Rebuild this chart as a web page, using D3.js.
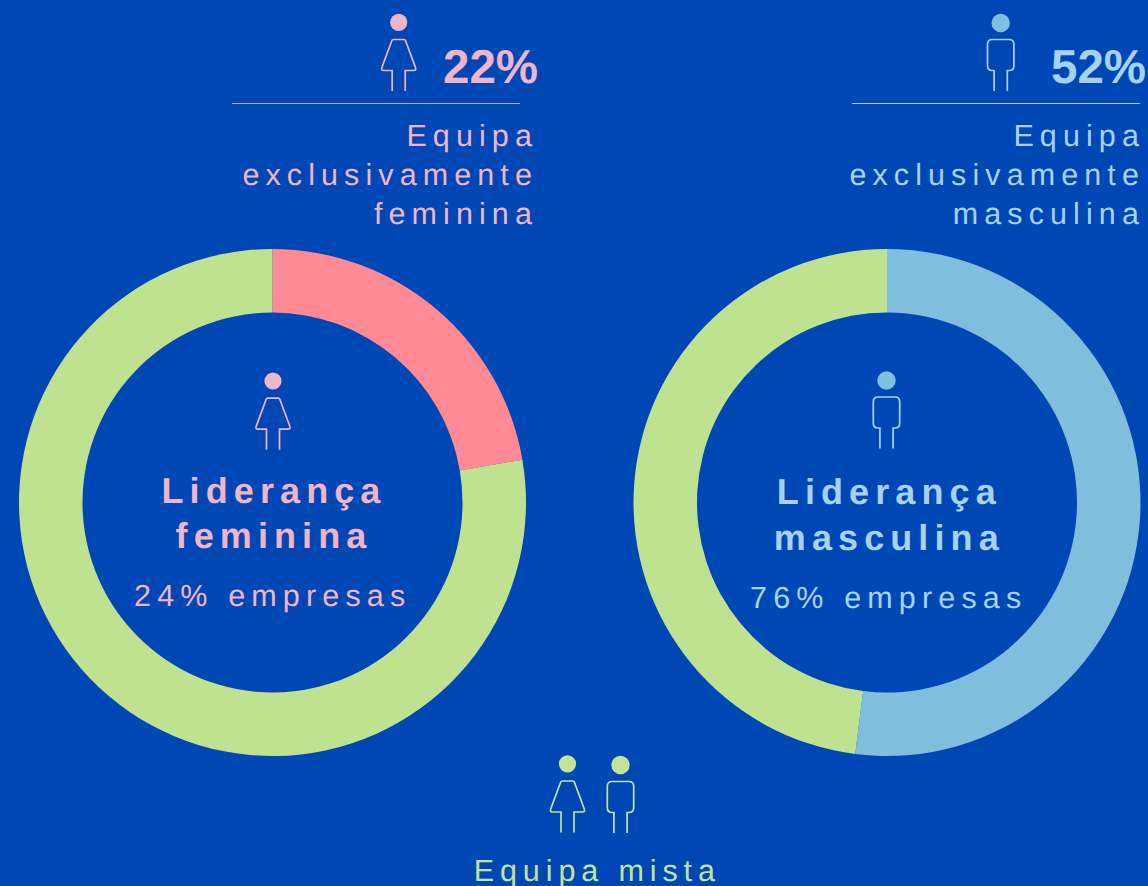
<!DOCTYPE html>
<html><head><meta charset="utf-8">
<script src="https://cdn.jsdelivr.net/npm/d3@7/dist/d3.min.js"></script>
<style>html,body{margin:0;padding:0;background:#0047b6;overflow:hidden}svg{display:block}
text{font-family:"Liberation Sans",Arial,sans-serif;text-rendering:geometricPrecision}</style></head>
<body><script>
const segmentLabels = ["Liderança", "Equipa mista"];
const womenLedValues = [22.3, 77.7];
const menLedValues = [52, 48];
const womenLedColors = ["#ff8a96", "#bfe291"];
const menLedColors = ["#7fbedc", "#bfe291"];
const topShares = ["22%", "52%"];
const womenTeamLines = ["Equipa", "exclusivamente", "feminina"];
const menTeamLines = ["Equipa", "exclusivamente", "masculina"];
const womenCenter = ["Liderança", "feminina", "24% empresas"];
const menCenter = ["Liderança", "masculina", "76% empresas"];
const mixedLabel = "Equipa mista";

const pink="#f0b5c9", blue="#a5d3ec", green="#c1e496";
const W=1148,H=886;
const svg=d3.select("body").append("svg").attr("width",W).attr("height",H);
svg.append("rect").attr("width",W).attr("height",H).attr("fill","#0047b6");

const pie=d3.pie().sort(null).value(d=>d);
const arc=d3.arc().innerRadius(190).outerRadius(253.5);
function donut(cx,cy,vals,cols){
  const g=svg.append("g").attr("transform",`translate(${cx},${cy})`);
  g.selectAll("path").data(pie(vals)).join("path").attr("d",arc).attr("fill",(d,i)=>cols[i]);
}
donut(272.5,502.5,womenLedValues,womenLedColors);
donut(887,502.5,menLedValues,menLedColors);

function woman(cx,dy,col,head){
  const g=svg.append("g").attr("transform",`translate(${cx},${dy})`);
  g.append("circle").attr("cy",22.3).attr("r",8.6).attr("fill",head||col);
  g.append("path").attr("fill","none").attr("stroke",col).attr("stroke-width",1.7)
   .attr("d","M-6.5,91V70.5H-15Q-17.8,70.5-16.8,67.5L-6.8,40.5Q-6.4,39.5-5.3,39.5H5.3Q6.4,39.5,6.8,40.5L16.8,67.5Q17.8,70.5,15,70.5H6.5V91");
}
function man(cx,dy,col,head){
  const g=svg.append("g").attr("transform",`translate(${cx},${dy})`);
  g.append("circle").attr("cy",23).attr("r",9.2).attr("fill",head||col);
  g.append("path").attr("fill","none").attr("stroke",col).attr("stroke-width",1.7)
   .attr("d","M-6.6,91V70.5H-8.5Q-13.2,70.5-13.2,65.5V44.5Q-13.2,39.5-8.5,39.5H8.5Q13.2,39.5,13.2,44.5V65.5Q13.2,70.5,8.5,70.5H6.6V91");
}
function txt(x,y,s,size,col,ls,anchor,weight){
  svg.append("text").attr("x",x).attr("y",y).attr("fill",col).attr("font-size",size)
   .attr("letter-spacing",ls).attr("text-anchor",anchor).attr("font-weight",weight||400).text(s);
}
// top blocks
woman(398.7,0,pink);
man(1000.7,0,blue,"#7fc0de");
txt(443,83,topShares[0],47.5,pink,0,"start",700);
txt(1051,83,topShares[1],47.5,blue,0,"start",700);
svg.append("line").attr("x1",232).attr("x2",520).attr("y1",103.5).attr("y2",103.5).attr("stroke","#b9a5d8").attr("stroke-width",1.2);
svg.append("line").attr("x1",852).attr("x2",1140).attr("y1",103.5).attr("y2",103.5).attr("stroke",blue).attr("stroke-width",1.2);
const lineYs=[146.3,185,223.8];
womenTeamLines.forEach((s,i)=>txt(538,lineYs[i],s,30.5,pink,6.1,"end"));
menTeamLines.forEach((s,i)=>txt(1145,lineYs[i],s,30.5,blue,6.1,"end"));
// centres
woman(273,358.7,pink);
man(886.5,357.5,blue,"#7fc0de");
txt(274,503,womenCenter[0],36,pink,6.1,"middle",700);
txt(274,548,womenCenter[1],36,pink,6.1,"middle",700);
txt(272.7,606,womenCenter[2],30.5,pink,6.15,"middle");
txt(889.3,504,menCenter[0],36,blue,6.1,"middle",700);
txt(889.3,550,menCenter[1],36,blue,6.1,"middle",700);
txt(888.7,608,menCenter[2],30.5,blue,6.15,"middle");
// bottom
woman(567.5,741.5,green);
man(620.5,742,green);
txt(597.3,881,mixedLabel,30.5,green,5.9,"middle");
</script></body></html>
